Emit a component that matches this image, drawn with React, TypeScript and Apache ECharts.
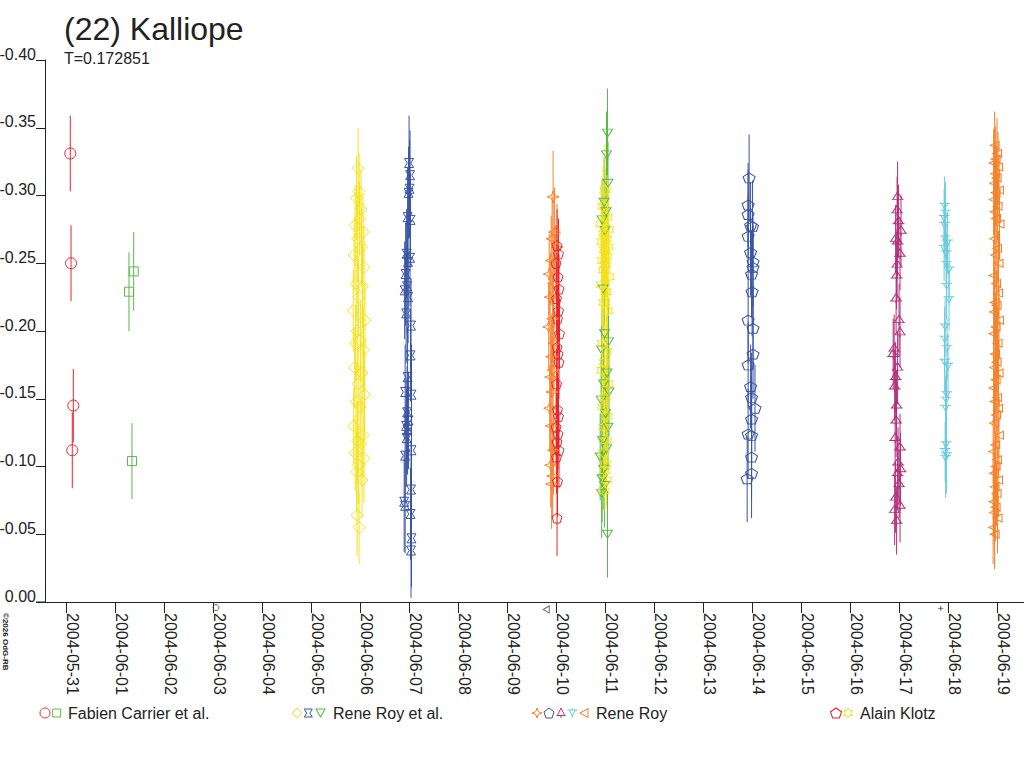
import React, { useEffect, useRef } from "react";
import * as echarts from "echarts";

const TITLE = "(22) Kalliope";
const PERIOD_TEXT = "T=0.172851";
const COPYRIGHT = "©2026 OdG-RB";

const DATE_LABELS = [
  "2004-05-31", "2004-06-01", "2004-06-02", "2004-06-03", "2004-06-04",
  "2004-06-05", "2004-06-06", "2004-06-07", "2004-06-08", "2004-06-09",
  "2004-06-10", "2004-06-11", "2004-06-12", "2004-06-13", "2004-06-14",
  "2004-06-15", "2004-06-16", "2004-06-17", "2004-06-18", "2004-06-19",
];
const TICK_DAYS = DATE_LABELS.map((_, i) => i);

const OBSERVERS = ["Fabien Carrier et al.", "Rene Roy et al.", "Rene Roy", "Alain Klotz"];

// [days since 2004-05-31 0h, relative magnitude, error]
const carrierCircles = [
  [0.086, -0.331, 0.028], [0.101, -0.25, 0.028], [0.148, -0.145, 0.027], [0.127, -0.112, 0.028],
];
const carrierSquares = [
  [1.284, -0.229, 0.029], [1.38, -0.244, 0.029], [1.345, -0.104, 0.028],
];
const royEtAlDiamonds = [
  [5.96, -0.32, 0.03], [5.98, -0.303, 0.028], [5.93, -0.298, 0.031], [6.02, -0.29, 0.029],
  [5.99, -0.283, 0.027], [5.9, -0.278, 0.03], [6.06, -0.273, 0.028], [5.95, -0.268, 0.032],
  [6.03, -0.262, 0.029], [5.88, -0.256, 0.027], [6.08, -0.247, 0.03], [5.92, -0.235, 0.028],
  [6.05, -0.233, 0.031], [5.97, -0.225, 0.029], [5.86, -0.215, 0.03], [6.1, -0.208, 0.028],
  [5.94, -0.2, 0.033], [6.01, -0.193, 0.03], [5.91, -0.191, 0.028], [6.07, -0.186, 0.031],
  [5.89, -0.173, 0.029], [6.04, -0.169, 0.03], [5.96, -0.161, 0.028], [6.09, -0.153, 0.032],
  [5.92, -0.148, 0.029], [6.0, -0.144, 0.03], [5.87, -0.13, 0.028], [6.06, -0.123, 0.031],
  [5.95, -0.119, 0.029], [6.02, -0.117, 0.03], [5.9, -0.11, 0.028], [6.08, -0.106, 0.033],
  [5.97, -0.101, 0.029], [5.93, -0.096, 0.03], [6.04, -0.09, 0.028], [5.94, -0.064, 0.03],
  [5.98, -0.055, 0.027],
];
const royEtAlHourglass = [
  [7.0, -0.324, 0.035], [7.02, -0.315, 0.033], [7.01, -0.305, 0.036], [6.99, -0.302, 0.034],
  [6.97, -0.284, 0.037], [7.03, -0.282, 0.035], [6.95, -0.257, 0.033], [7.02, -0.254, 0.036],
  [6.98, -0.251, 0.034], [6.93, -0.242, 0.038], [6.96, -0.233, 0.035], [6.91, -0.23, 0.036],
  [6.98, -0.225, 0.034], [6.94, -0.213, 0.037], [7.04, -0.204, 0.035], [7.03, -0.182, 0.034],
  [6.97, -0.166, 0.036], [6.92, -0.155, 0.035], [7.05, -0.153, 0.037], [6.96, -0.14, 0.034],
  [6.99, -0.134, 0.036], [6.94, -0.13, 0.035], [6.97, -0.127, 0.033], [6.95, -0.121, 0.036],
  [7.05, -0.112, 0.034], [6.92, -0.108, 0.035], [7.04, -0.083, 0.036], [6.9, -0.074, 0.037],
  [6.92, -0.071, 0.035], [7.03, -0.065, 0.034], [7.05, -0.047, 0.036], [7.04, -0.038, 0.035],
];
const royEtAlTriangles = [
  [11.05, -0.346, 0.033], [11.03, -0.33, 0.032], [11.06, -0.309, 0.031], [10.98, -0.295, 0.033],
  [11.02, -0.288, 0.032], [10.94, -0.282, 0.03], [11.0, -0.274, 0.032], [10.96, -0.231, 0.031],
  [10.99, -0.198, 0.033], [11.07, -0.192, 0.032], [10.93, -0.186, 0.031], [11.04, -0.169, 0.032],
  [10.97, -0.161, 0.03], [11.08, -0.155, 0.033], [10.92, -0.149, 0.032], [11.01, -0.139, 0.031],
  [11.06, -0.129, 0.032], [10.95, -0.119, 0.033], [11.03, -0.113, 0.031], [10.9, -0.107, 0.032],
  [10.97, -0.098, 0.03], [10.94, -0.091, 0.032], [10.99, -0.086, 0.031], [10.93, -0.08, 0.033],
  [11.05, -0.05, 0.032],
];
const royStars = [
  [9.94, -0.299, 0.034], [9.97, -0.273, 0.033], [9.92, -0.268, 0.031], [10.02, -0.262, 0.032],
  [9.9, -0.252, 0.033], [9.86, -0.242, 0.03], [9.95, -0.235, 0.032], [9.88, -0.225, 0.033],
  [9.93, -0.209, 0.031], [9.85, -0.203, 0.032], [9.96, -0.191, 0.033], [9.91, -0.181, 0.03],
  [9.94, -0.171, 0.032], [9.89, -0.166, 0.033], [9.92, -0.155, 0.031], [9.87, -0.143, 0.032],
  [9.9, -0.13, 0.03], [9.95, -0.112, 0.033], [9.89, -0.101, 0.031], [9.93, -0.093, 0.032],
  [9.91, -0.087, 0.033],
];
const royPentagons = [
  [13.94, -0.313, 0.032], [13.92, -0.293, 0.031], [13.92, -0.286, 0.033], [13.97, -0.278, 0.032],
  [14.01, -0.277, 0.034], [13.92, -0.27, 0.031], [13.97, -0.258, 0.032], [14.02, -0.251, 0.033],
  [14.02, -0.247, 0.031], [13.99, -0.242, 0.032], [14.0, -0.229, 0.033], [13.92, -0.208, 0.032],
  [14.02, -0.202, 0.031], [14.02, -0.183, 0.033], [13.92, -0.175, 0.032], [13.97, -0.159, 0.031],
  [13.99, -0.151, 0.033], [14.06, -0.143, 0.032], [13.99, -0.135, 0.031], [13.92, -0.124, 0.033],
  [13.99, -0.123, 0.032], [13.99, -0.107, 0.031], [13.99, -0.095, 0.033], [13.9, -0.091, 0.032],
];
const royTripods = [
  [16.97, -0.299, 0.026], [16.96, -0.289, 0.025], [16.99, -0.281, 0.027], [17.04, -0.274, 0.026],
  [16.93, -0.268, 0.025], [16.97, -0.266, 0.026], [17.02, -0.257, 0.027], [16.96, -0.249, 0.026],
  [16.95, -0.241, 0.025], [16.94, -0.224, 0.026], [17.0, -0.208, 0.027], [17.02, -0.199, 0.026],
  [16.9, -0.187, 0.025], [16.88, -0.183, 0.026], [16.97, -0.173, 0.027], [16.93, -0.166, 0.026],
  [16.91, -0.159, 0.025], [16.95, -0.145, 0.026], [16.94, -0.134, 0.027], [16.92, -0.121, 0.026],
  [17.02, -0.114, 0.025], [16.98, -0.103, 0.026], [17.03, -0.098, 0.027], [16.97, -0.095, 0.026],
  [17.0, -0.087, 0.025], [16.93, -0.077, 0.026], [17.02, -0.071, 0.027], [16.91, -0.068, 0.026],
  [16.95, -0.06, 0.025],
];
const royStemTriangles = [
  [17.93, -0.292, 0.022], [17.95, -0.287, 0.023], [17.92, -0.283, 0.022], [17.93, -0.278, 0.024],
  [17.94, -0.268, 0.022], [17.99, -0.265, 0.023], [17.92, -0.261, 0.024], [17.96, -0.257, 0.022],
  [17.97, -0.249, 0.023], [18.02, -0.245, 0.022], [17.97, -0.233, 0.024], [18.02, -0.223, 0.023],
  [17.94, -0.203, 0.022], [17.93, -0.194, 0.024], [17.98, -0.187, 0.023], [17.93, -0.177, 0.022],
  [18.0, -0.174, 0.024], [17.97, -0.153, 0.023], [17.96, -0.149, 0.022], [17.95, -0.143, 0.024],
  [17.96, -0.116, 0.023], [17.94, -0.111, 0.022], [17.97, -0.108, 0.028], [17.95, -0.106, 0.029],
];
const royLeftTriangles = [
  [18.95, -0.337, 0.025], [19.0, -0.331, 0.026], [18.97, -0.327, 0.024], [18.93, -0.324, 0.025],
  [19.02, -0.321, 0.026], [18.96, -0.316, 0.025], [18.99, -0.313, 0.024], [18.94, -0.309, 0.026],
  [19.04, -0.304, 0.025], [18.97, -0.302, 0.024], [18.93, -0.297, 0.026], [19.01, -0.292, 0.025],
  [18.95, -0.288, 0.024], [18.98, -0.283, 0.026], [19.05, -0.279, 0.025], [18.94, -0.268, 0.024],
  [19.0, -0.261, 0.026], [18.96, -0.256, 0.025], [19.03, -0.25, 0.024], [18.93, -0.241, 0.026],
  [18.98, -0.235, 0.025], [19.02, -0.228, 0.024], [18.95, -0.221, 0.026], [18.99, -0.219, 0.025],
  [18.94, -0.214, 0.024], [19.04, -0.208, 0.026], [18.97, -0.203, 0.025], [18.93, -0.198, 0.024],
  [19.01, -0.191, 0.026], [18.96, -0.183, 0.025], [18.99, -0.177, 0.024], [18.94, -0.173, 0.026],
  [19.03, -0.169, 0.025], [18.97, -0.164, 0.024], [18.93, -0.158, 0.026], [19.0, -0.151, 0.025],
  [18.95, -0.148, 0.024], [19.02, -0.143, 0.026], [18.98, -0.138, 0.025], [18.94, -0.132, 0.024],
  [19.04, -0.123, 0.026], [18.96, -0.116, 0.025], [18.92, -0.111, 0.024], [19.0, -0.105, 0.026],
  [18.97, -0.1, 0.025], [18.94, -0.095, 0.024], [19.02, -0.09, 0.026], [18.95, -0.085, 0.025],
  [18.99, -0.08, 0.024], [18.93, -0.074, 0.026], [18.97, -0.07, 0.025], [18.94, -0.066, 0.024],
  [19.01, -0.062, 0.026], [18.92, -0.055, 0.027], [18.95, -0.05, 0.026],
];
const klotzPentagons = [
  [10.02, -0.263, 0.027], [10.05, -0.257, 0.026], [10.0, -0.25, 0.028], [10.04, -0.24, 0.027],
  [10.06, -0.231, 0.026], [10.01, -0.224, 0.027], [10.05, -0.215, 0.028], [10.03, -0.209, 0.027],
  [10.07, -0.198, 0.026], [10.02, -0.188, 0.027], [10.04, -0.183, 0.028], [10.06, -0.177, 0.027],
  [10.01, -0.161, 0.026], [10.03, -0.142, 0.027], [10.05, -0.137, 0.028], [10.0, -0.129, 0.027],
  [10.04, -0.124, 0.026], [10.02, -0.118, 0.027], [10.06, -0.112, 0.028], [10.01, -0.107, 0.027],
  [10.03, -0.089, 0.026], [10.02, -0.062, 0.028],
];
const klotzStars = [
  [11.0, -0.304, 0.034], [10.96, -0.292, 0.03], [11.04, -0.284, 0.031], [10.92, -0.279, 0.029],
  [11.07, -0.275, 0.03], [10.98, -0.272, 0.031], [11.02, -0.268, 0.029], [10.94, -0.266, 0.03],
  [11.06, -0.262, 0.031], [10.99, -0.26, 0.028], [11.03, -0.255, 0.03], [10.95, -0.252, 0.029],
  [11.01, -0.249, 0.031], [10.97, -0.245, 0.03], [11.08, -0.24, 0.028], [10.93, -0.234, 0.03],
  [11.02, -0.229, 0.029], [10.98, -0.221, 0.031], [11.05, -0.215, 0.028], [10.95, -0.191, 0.027],
  [11.03, -0.185, 0.026], [10.99, -0.177, 0.027], [10.94, -0.171, 0.025], [11.06, -0.161, 0.026],
  [11.0, -0.151, 0.025], [10.96, -0.144, 0.026], [11.04, -0.137, 0.025], [10.98, -0.129, 0.024],
  [11.02, -0.119, 0.023], [10.97, -0.11, 0.022], [11.01, -0.102, 0.021], [10.99, -0.097, 0.02],
  [11.03, -0.09, 0.019], [10.98, -0.082, 0.015],
];
// a few marks just below the axis
const strayMarks = [[3.06, 0.0041], [9.8, 0.0055], [17.85, 0.0047]];

const SYMBOL_PATHS: Record<string, string> = {
  diamond: "M5,0L10,5L5,10L0,5Z",
  hourglass: "M0,0L10,0L7,5L10,10L0,10L3,5Z",
  triDown: "M0,0L10,0L5,10Z",
  star4: "M5,0L6.3,3.7L10,5L6.3,6.3L5,10L3.7,6.3L0,5L3.7,3.7Z",
  pentagon: "M5,0L10,3.8L8.1,10L1.9,10L0,3.8Z",
  tripod: "M5,0L9,7.5L1,7.5Z M0,7.5L10,7.5 M5,7.5L5,10",
  stemTri: "M0,2L10,2 M2,2L5,8L8,2 M5,8L5,10 M5,0L5,2",
  triLeft: "M0,5L10,0L10,10Z",
  star6: "M5,0L6.44,2.5L9.33,2.5L7.89,5L9.33,7.5L6.44,7.5L5,10L3.56,7.5L0.67,7.5L2.11,5L0.67,2.5L3.56,2.5Z",
  plus: "M5,0L5,10 M0,5L10,5",
};

Object.keys(SYMBOL_PATHS).forEach((k) => {
  try {
    echarts.graphic.registerShape("kal_" + k, echarts.graphic.extendPath(SYMBOL_PATHS[k], {}));
  } catch (e) {
    /* already registered */
  }
});

const C = {
  red: "#e8262e",
  green: "#5ab84a",
  yellow: "#f4e21c",
  blue: "#3a54a4",
  orange: "#f5822a",
  magenta: "#b0307a",
  cyan: "#6ccbdc",
  ink: "#222222",
};

type Def = { id: string; data: number[][]; color: string; symbol: string; size: number | number[] };

const SERIES_DEFS: Def[] = [
  { id: "carrier-circle", data: carrierCircles, color: C.red, symbol: "circle", size: 11 },
  { id: "carrier-square", data: carrierSquares, color: C.green, symbol: "rect", size: 9 },
  { id: "royetal-diamond", data: royEtAlDiamonds, color: C.yellow, symbol: "diamond", size: 12 },
  { id: "royetal-hourglass", data: royEtAlHourglass, color: C.blue, symbol: "hourglass", size: 9 },
  { id: "royetal-tri", data: royEtAlTriangles, color: C.green, symbol: "triDown", size: [10, 8] },
  { id: "roy-star", data: royStars, color: C.orange, symbol: "star4", size: 12 },
  { id: "roy-pentagon", data: royPentagons, color: C.blue, symbol: "pentagon", size: [12, 10] },
  { id: "roy-tripod", data: royTripods, color: C.magenta, symbol: "tripod", size: [12, 10] },
  { id: "roy-stemtri", data: royStemTriangles, color: C.cyan, symbol: "stemTri", size: [11, 10] },
  { id: "roy-lefttri", data: royLeftTriangles, color: C.orange, symbol: "triLeft", size: [9, 8] },
  { id: "klotz-pentagon", data: klotzPentagons, color: C.red, symbol: "pentagon", size: 10 },
  { id: "klotz-star", data: klotzStars, color: C.yellow, symbol: "star6", size: 11 },
];

const symbolOf = (s: string) => (s === "circle" || s === "rect" ? s : "path://" + SYMBOL_PATHS[s]);

const FONT = "'Liberation Sans', Arial, Helvetica, sans-serif";

function legendSymbol(kind: string, cx: number, cy: number, w: number, h: number, color: string) {
  const style = { fill: "none", stroke: color, lineWidth: 1 };
  if (kind === "circle") return { type: "circle", shape: { cx, cy, r: w / 2 }, style };
  if (kind === "rect") return { type: "rect", shape: { x: cx - w / 2, y: cy - h / 2, width: w, height: h }, style };
  return { type: "kal_" + kind, x: cx - w / 2, y: cy - h / 2, scaleX: w / 10, scaleY: h / 10, style: { ...style, strokeNoScale: true } };
}

export default function App() {
  const ref = useRef<HTMLDivElement>(null);
  useEffect(() => {
    if (!ref.current) return;
    const chart = echarts.init(ref.current, undefined, { renderer: "svg" });
    const series: any[] = [];
    SERIES_DEFS.forEach((d) => {
      series.push({
        id: d.id + "-err",
        type: "custom",
        silent: true,
        data: d.data,
        encode: { x: 0, y: 1 },
        renderItem: (_p: any, api: any) => {
          const x = api.value(0);
          const y = api.value(1);
          const e = api.value(2);
          const a = api.coord([x, y - e]);
          const b = api.coord([x, y + e]);
          return {
            type: "line",
            shape: { x1: a[0], y1: a[1], x2: b[0], y2: b[1] },
            style: { stroke: d.color, lineWidth: 1 },
          };
        },
      });
      series.push({
        id: d.id,
        type: "scatter",
        silent: true,
        data: d.data.map((p) => [p[0], p[1]]),
        symbol: symbolOf(d.symbol),
        symbolSize: d.size,
        itemStyle: { color: "transparent", borderColor: d.color, borderWidth: 1, opacity: 1 },
        emphasis: { disabled: true },
      });
    });
    series.push({
      id: "stray",
      type: "scatter",
      silent: true,
      clip: false,
      data: strayMarks.map((p, i) => ({
        value: p,
        symbol: ["circle", "path://" + SYMBOL_PATHS.triLeft, "path://" + SYMBOL_PATHS.plus][i],
        symbolSize: [6, [6, 7], 5][i],
      })),
      itemStyle: { color: "transparent", borderColor: "#444", borderWidth: 1 },
    });

    const legendItems: any[] = [
      legendSymbol("circle", 45, 713, 10, 10, C.red),
      legendSymbol("rect", 56.7, 713, 8, 8, C.green),
      legendSymbol("diamond", 297, 713, 10, 10, C.yellow),
      legendSymbol("hourglass", 308.3, 713, 8, 8, C.blue),
      legendSymbol("triDown", 320.5, 713, 9, 8, C.green),
      legendSymbol("star4", 537, 713, 10, 10, C.orange),
      legendSymbol("pentagon", 549, 713, 10, 10, C.blue),
      legendSymbol("tripod", 561, 713, 9, 10, C.magenta),
      legendSymbol("stemTri", 572.3, 713, 10, 10, C.cyan),
      legendSymbol("triLeft", 584, 713, 8, 9, C.orange),
      legendSymbol("pentagon", 836, 713, 11, 10, C.red),
      legendSymbol("star6", 848, 713, 10, 10, C.yellow),
    ];
    const legendTextX = [68, 333, 596, 860];
    OBSERVERS.forEach((name, i) => {
      legendItems.push({
        type: "text",
        x: legendTextX[i],
        y: 713,
        style: { text: name, font: `16px ${FONT}`, fill: C.ink, align: "left", verticalAlign: "middle" },
      });
    });

    chart.setOption({
      animation: false,
      backgroundColor: "#ffffff",
      grid: { left: 45, right: 0, top: 60, bottom: 166, containLabel: false, outerBoundsMode: "none" },
      xAxis: {
        type: "value",
        min: -0.43,
        max: 19.55,
        axisLine: { show: true, onZero: false, lineStyle: { color: C.ink, width: 1 } },
        axisTick: { show: true, length: 11, customValues: TICK_DAYS, lineStyle: { color: C.ink } },
        splitLine: { show: false },
        axisLabel: {
          customValues: TICK_DAYS,
          rotate: -90,
          margin: 11,
          lineHeight: 13,
          verticalAlign: "bottom",
          fontSize: 16,
          fontFamily: FONT,
          color: C.ink,
          formatter: (v: number) => DATE_LABELS[Math.round(v)] ?? "",
        },
      },
      yAxis: {
        type: "value",
        inverse: true,
        min: -0.4,
        max: 0,
        interval: 0.05,
        axisLine: { show: true, onZero: false, lineStyle: { color: C.ink, width: 1 } },
        axisTick: { show: true, length: 9, lineStyle: { color: C.ink } },
        splitLine: { show: false },
        axisLabel: {
          margin: 9,
          lineHeight: 12,
          verticalAlign: "bottom",
          fontSize: 16,
          fontFamily: FONT,
          color: C.ink,
          formatter: (v: number) => (Math.abs(v) < 1e-9 ? "0.00" : v.toFixed(2)),
        },
      },
      graphic: [
        {
          type: "text",
          x: 64,
          y: 29,
          style: { text: TITLE, font: `32px ${FONT}`, fill: C.ink, align: "left", verticalAlign: "middle" },
        },
        {
          type: "text",
          x: 64,
          y: 58.5,
          style: { text: PERIOD_TEXT, font: `16px ${FONT}`, fill: C.ink, align: "left", verticalAlign: "middle" },
        },
        {
          type: "text",
          x: 5,
          y: 613,
          rotation: -Math.PI / 2,
          style: { text: COPYRIGHT, font: `bold 8px ${FONT}`, fill: C.ink, align: "left", verticalAlign: "middle" },
        },
        { type: "line", shape: { x1: 36, y1: 602, x2: 45, y2: 602 }, style: { stroke: C.ink, lineWidth: 1 } },
        ...legendItems,
      ],
      series,
    });
    return () => chart.dispose();
  }, []);
  return (
    <div
      ref={ref}
      style={{ position: "absolute", left: 0, top: 0, width: 1024, height: 768, background: "#fff" }}
    />
  );
}
